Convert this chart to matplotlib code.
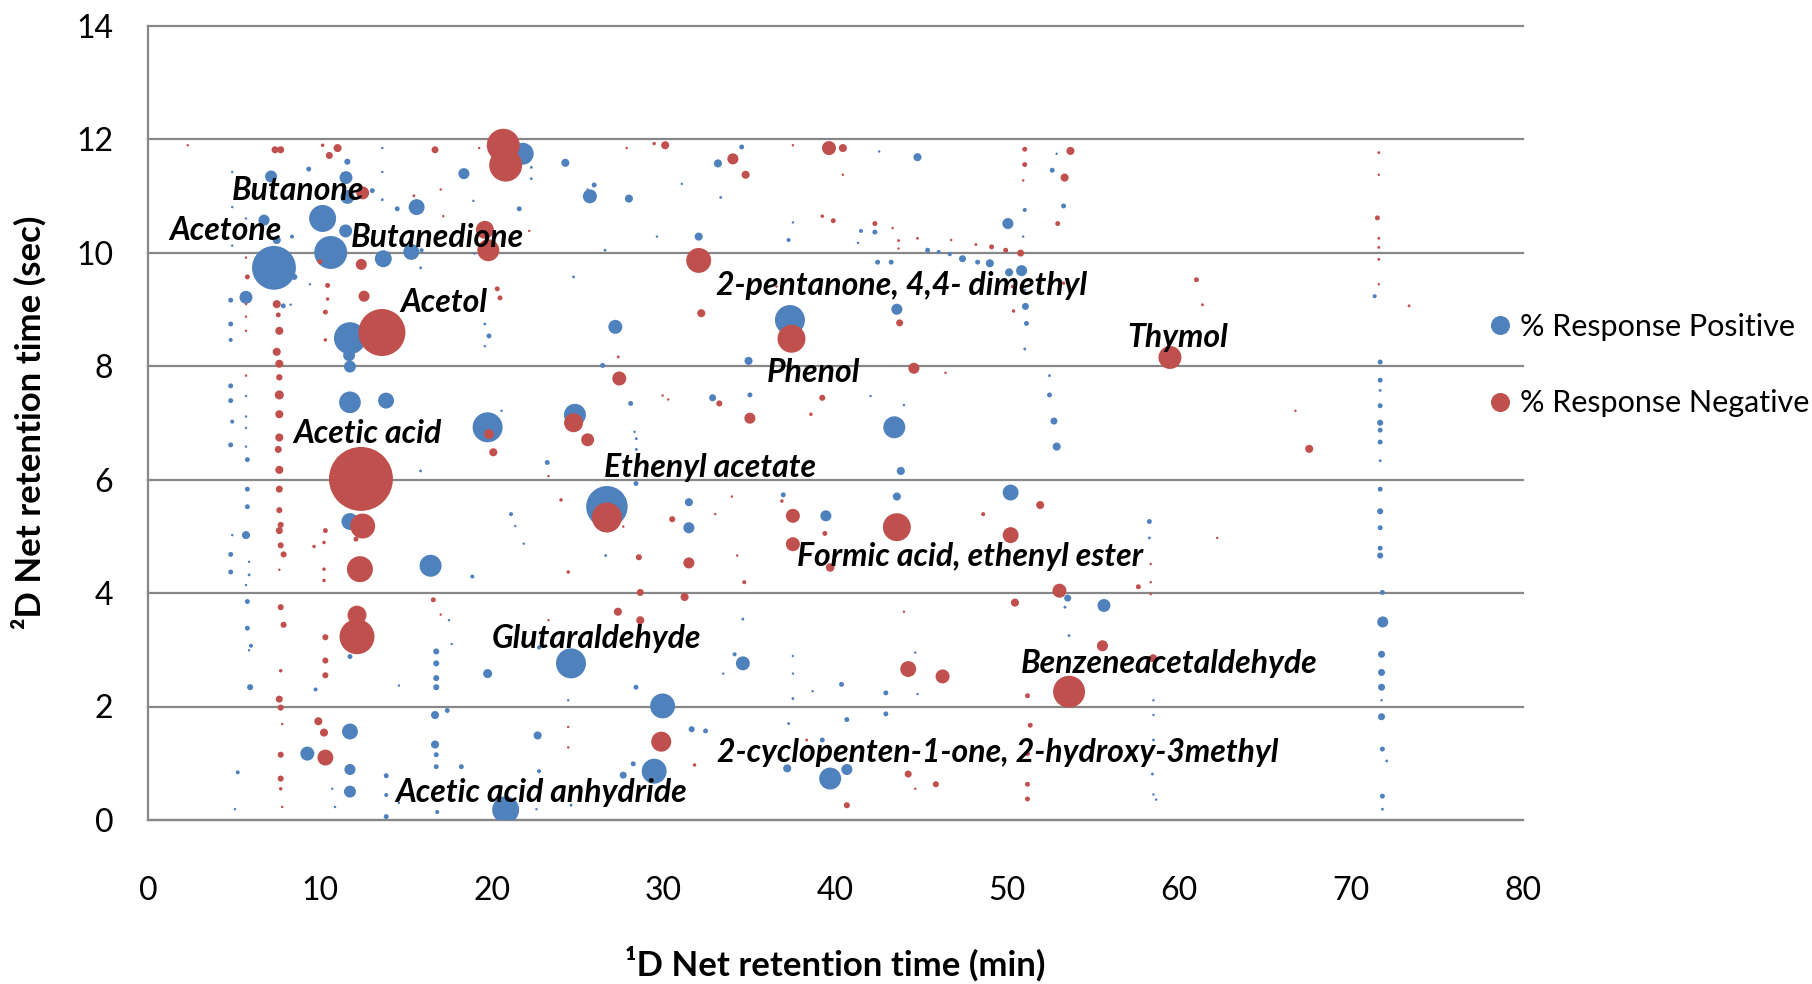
import matplotlib
matplotlib.use("Agg")
import matplotlib.pyplot as plt
from matplotlib.lines import Line2D

plt.rcParams['font.family'] = ['Lato', 'DejaVu Sans']

BLUE = '#4f81bd'
RED = '#c0504d'
GRID = '#878787'

# % Response Positive: 1D time (min), 2D time (sec), response
pos_x = [13.63, 11.60, 9.35, 7.16, 4.90, 13.63, 11.52, 11.60, 13.05, 13.63,
         14.50, 15.63, 18.93, 21.60, 18.38, 21.80, 22.30, 22.30, 24.28, 25.71,
         25.96, 25.58, 4.90, 10.16, 6.75, 5.70, 11.50, 8.38, 7.49, 4.90,
         10.63, 15.32, 15.92, 13.69, 18.99, 15.86, 24.76, 7.33, 8.51, 9.42,
         5.70, 4.81, 7.87, 8.30, 4.81, 4.81, 11.75, 11.70, 11.75, 19.60,
         19.84, 19.60, 4.81, 5.70, 4.81, 11.75, 13.85, 5.70, 4.90, 5.70,
         19.76, 20.57, 24.84, 4.81, 5.70, 5.78, 15.86, 23.23,
         5.78, 5.78, 4.90, 5.70, 4.81, 5.88, 4.81, 5.88, 5.70, 11.75,
         16.44, 18.87, 21.12, 21.37, 21.86, 5.78, 5.78, 5.99, 5.88, 11.75,
         5.94, 9.75, 14.60, 16.77, 16.77, 16.77, 16.77, 17.51, 17.67, 19.76,
         24.61, 22.75, 24.45, 16.70, 17.41, 11.75, 9.27, 11.75, 11.75, 16.70,
         16.77, 16.77, 18.23, 22.67, 22.75, 5.22, 10.72, 10.88, 5.06, 13.86,
         13.86, 13.86, 14.60, 16.83, 20.81, 22.60, 24.61,
         34.54, 42.54, 44.77, 33.16, 27.98, 31.06, 33.32, 37.52, 29.61, 32.04,
         37.27, 41.48, 42.29, 41.31, 50.03, 45.36, 46.00, 46.65, 47.39, 48.27,
         48.98, 50.10, 42.45, 43.24, 26.59, 43.57, 27.19, 37.35, 34.94, 26.45,
         28.08, 32.85, 35.02, 42.04, 43.98, 43.42, 43.80, 28.31, 28.41, 28.41,
         28.39, 26.70, 31.47, 31.47, 36.96, 43.57, 39.44, 50.19, 26.63, 34.61,
         34.13, 34.61, 33.47, 37.52, 37.52, 37.52, 38.67, 40.35, 42.93, 44.64,
         44.77, 28.39, 29.94, 31.63, 32.44, 37.27, 40.66, 42.93, 39.23, 28.23,
         27.65, 29.45, 37.19, 39.69, 40.66,
         52.87, 52.61, 53.27, 51.01, 50.92, 50.83, 51.03, 51.05, 51.11, 51.01,
         52.45, 52.45, 52.71, 52.87, 71.37, 71.69, 71.69, 71.69, 71.69, 71.69,
         71.69, 71.69, 71.69,
         58.26, 58.26, 53.51, 53.35, 55.62, 53.59, 71.69, 71.69, 71.69, 71.69,
         71.69, 71.82, 71.84, 71.77, 71.77, 71.77, 71.77, 71.77, 71.82, 72.07,
         71.82, 71.82, 58.50, 58.50, 58.50, 58.44, 58.50, 58.66]
pos_y = [11.84, 11.60, 11.47, 11.34, 11.42, 11.42, 11.32, 10.98, 11.09, 10.93,
         10.77, 10.80, 10.91, 10.77, 11.39, 11.74, 11.50, 11.30, 11.58, 10.99,
         11.19, 11.11, 10.80, 10.60, 10.57, 10.60, 10.38, 10.28, 10.22, 10.12,
         10.00, 10.01, 10.04, 9.89, 9.98, 9.73, 9.57, 9.73, 9.57, 9.44,
         9.21, 9.16, 9.06, 9.08, 8.74, 8.46, 8.49, 8.19, 7.99, 8.74,
         8.53, 8.35, 7.65, 7.47, 7.39, 7.36, 7.39, 7.11, 7.02, 6.91,
         6.92, 7.21, 7.14, 6.61, 6.58, 6.35, 6.15, 6.30,
         5.83, 5.52, 5.02, 5.02, 4.68, 4.55, 4.37, 4.32, 4.14, 5.26,
         4.48, 4.29, 5.39, 5.18, 4.87, 3.85, 3.38, 3.07, 2.99, 2.88,
         2.34, 2.30, 2.37, 2.97, 2.76, 2.50, 2.34, 3.52, 3.10, 2.58,
         2.76, 3.04, 2.11, 1.85, 1.93, 1.56, 1.17, 0.89, 0.50, 1.33,
         1.15, 0.94, 0.94, 1.49, 0.86, 0.84, 0.55, 0.23, 0.19, 0.78,
         0.06, 0.44, 0.30, 0.14, 0.18, 0.19, 0.26,
         11.86, 11.78, 11.68, 11.57, 10.95, 11.21, 10.97, 10.53, 10.28, 10.28,
         10.22, 10.38, 10.36, 10.17, 10.51, 10.04, 10.01, 9.97, 9.89, 9.83,
         9.81, 9.65, 9.83, 9.83, 10.04, 9.00, 8.69, 8.81, 8.09, 8.01,
         7.34, 7.44, 7.49, 7.47, 7.31, 6.92, 6.15, 6.84, 6.72, 6.53,
         5.93, 5.52, 5.60, 5.15, 5.73, 5.70, 5.36, 5.77, 4.66, 3.54,
         2.92, 2.76, 2.58, 2.89, 2.58, 2.14, 2.27, 2.39, 2.24, 2.95,
         2.22, 2.34, 2.01, 1.60, 1.57, 1.70, 1.77, 1.87, 1.41, 0.99,
         0.79, 0.86, 0.91, 0.73, 0.89,
         11.74, 11.45, 10.82, 10.75, 10.28, 9.68, 9.34, 9.05, 8.75, 8.30,
         7.83, 7.49, 7.03, 6.58, 9.23, 8.07, 7.75, 7.57, 7.30, 7.00,
         6.87, 6.66, 6.33,
         5.26, 4.97, 3.91, 3.75, 3.78, 3.25, 5.83, 5.44, 5.15, 4.79,
         4.66, 4.01, 3.49, 2.92, 2.60, 2.34, 2.11, 1.82, 1.25, 1.04,
         0.42, 0.19, 2.11, 1.85, 1.41, 0.81, 0.45, 0.36]
pos_r = [0.15, 0.9, 0.6, 3.5, 0.15, 0.15, 4.1, 4.8, 0.6, 0.2,
         0.6, 6.2, 0.15, 0.6, 3.0, 11.8, 0.2, 0.2, 1.6, 4.8,
         0.6, 0.15, 0.15, 17.8, 3.0, 0.15, 4.1, 0.4, 1.6, 0.15,
         26.6, 6.2, 0.4, 7.0, 0.15, 0.2, 0.2, 47, 0.9, 0.15,
         4.1, 0.6, 0.6, 0.15, 0.6, 0.4, 25, 3.5, 3.5, 0.2,
         0.6, 0.15, 0.6, 0.15, 0.6, 11.5, 6.2, 0.15, 0.4, 0.15,
         22, 0.15, 11.8, 0.6, 0.15, 0.6, 0.2, 0.6,
         0.6, 0.6, 0.15, 1.6, 0.6, 0.15, 0.6, 0.2, 0.15, 7.0,
         11.8, 0.4, 0.4, 0.15, 0.15, 0.6, 0.6, 0.4, 0.15, 0.6,
         0.9, 0.4, 0.15, 0.9, 0.9, 0.9, 0.9, 0.15, 0.15, 2.0,
         22, 0.4, 0.15, 1.6, 0.6, 6.2, 4.8, 3.0, 3.5, 1.6,
         0.6, 0.6, 0.6, 1.6, 0.4, 0.4, 0.15, 0.15, 0.15, 0.6,
         0.6, 0.4, 0.15, 0.4, 17.8, 0.15, 0.2,
         0.6, 0.15, 1.6, 1.6, 1.6, 0.15, 0.2, 0.15, 0.15, 1.6,
         0.4, 0.4, 0.6, 0.15, 3.0, 0.6, 0.4, 0.4, 1.2, 0.6,
         1.6, 1.6, 0.6, 0.6, 0.2, 3.0, 4.8, 22, 1.6, 0.6,
         0.6, 1.2, 0.6, 0.15, 0.15, 11.8, 1.6, 0.15, 0.2, 0.2,
         0.6, 42, 1.6, 3.0, 0.6, 1.6, 3.0, 6.2, 0.2, 0.2,
         0.4, 4.8, 0.15, 0.15, 0.15, 0.2, 0.15, 0.6, 0.6, 0.15,
         0.15, 0.6, 15.2, 0.9, 0.6, 0.2, 0.6, 0.6, 0.6, 0.6,
         1.2, 15.2, 1.6, 11.8, 3.0,
         0.15, 0.6, 0.6, 0.4, 0.15, 3.0, 0.15, 1.2, 0.6, 0.2,
         0.2, 0.6, 1.2, 1.6, 0.4, 0.6, 0.6, 0.2, 0.6, 0.9,
         0.6, 0.6, 0.2,
         0.6, 0.2, 1.2, 0.2, 4.1, 0.2, 0.6, 0.9, 0.6, 0.6,
         0.9, 0.6, 3.0, 1.2, 1.2, 1.2, 0.15, 1.2, 0.6, 0.2,
         0.6, 0.2, 0.15, 0.15, 0.2, 0.2, 0.15, 0.15]

# % Response Negative
neg_x = [2.31, 7.39, 7.72, 10.16, 11.03, 10.55, 16.70, 19.27, 20.67, 20.81,
         12.49, 15.47, 17.03, 17.18, 19.60, 19.80, 22.18, 10.00, 12.41, 5.70,
         5.78, 10.45, 10.45, 12.57, 20.32, 20.48, 7.49, 5.70, 7.58, 5.70,
         10.32, 7.64, 5.70, 10.32, 13.61, 7.49, 7.64, 5.70, 7.64, 7.64,
         7.64, 7.64, 7.58, 7.64, 19.84, 20.09, 24.76, 25.58, 12.39, 23.30,
         7.64, 7.64, 7.72, 7.64, 7.72, 7.89, 7.64, 10.32, 10.24, 9.66,
         10.24, 10.24, 12.49, 12.10, 12.33, 16.60, 17.03, 23.30, 24.03, 24.45,
         7.72, 7.89, 10.32, 12.16, 12.16, 10.32, 10.32, 7.72, 7.64, 7.72,
         7.81, 9.91, 10.24, 10.32, 7.72, 7.72, 7.72, 7.81, 24.45, 24.45,
         27.85, 29.45, 30.09, 37.52, 39.62, 40.43, 34.03, 34.77, 40.43, 39.23,
         39.87, 42.29, 43.32, 43.67, 44.77, 46.73, 48.17, 49.08, 49.90, 43.67,
         32.04, 32.19, 43.73, 50.36, 50.30, 36.57, 37.44, 27.36, 27.42, 44.56,
         46.40, 29.94, 30.27, 33.24, 39.23, 38.57, 35.02,
         26.70, 27.65, 30.50, 33.00, 33.97, 36.88, 37.52, 37.52, 39.38, 39.69,
         43.57, 48.59, 50.19, 28.56, 31.47, 34.28, 34.69, 28.64, 31.22, 27.34,
         28.64, 50.44, 43.98, 44.23, 46.23, 29.86, 31.80, 38.32, 44.23, 45.84,
         44.64, 40.66,
         51.01, 51.01, 50.92, 53.67, 53.33, 52.93, 50.77, 53.27, 61.00, 61.35,
         59.46, 66.76, 67.56, 71.61, 71.61, 71.53, 71.61, 71.61, 71.61, 71.61,
         73.37,
         51.91, 62.21, 58.34, 58.34, 58.34, 57.62, 53.03, 55.53, 58.48, 53.59,
         51.17, 51.33, 51.17, 51.17, 51.17]
neg_y = [11.89, 11.81, 11.81, 11.89, 11.84, 11.71, 11.81, 11.84, 11.89, 11.54,
         11.05, 11.00, 11.11, 10.64, 10.40, 10.04, 10.38, 9.84, 9.79, 9.91,
         9.57, 9.42, 9.18, 9.23, 9.36, 9.20, 9.09, 9.09, 8.90, 8.87,
         8.95, 8.62, 8.62, 8.46, 8.59, 8.25, 8.04, 7.83, 7.80, 7.49,
         7.15, 6.74, 6.53, 6.17, 6.80, 6.48, 7.00, 6.70, 6.01, 6.06,
         5.83, 5.46, 5.20, 5.10, 4.84, 4.68, 4.41, 5.10, 4.89, 4.82,
         4.42, 4.22, 5.18, 4.95, 4.42, 3.88, 3.62, 3.52, 5.64, 4.37,
         3.75, 3.44, 3.22, 3.61, 3.23, 2.81, 2.55, 2.63, 2.13, 1.98,
         1.69, 1.74, 1.54, 1.10, 1.15, 0.73, 0.55, 0.23, 1.64, 1.28,
         11.84, 11.92, 11.89, 11.89, 11.84, 11.84, 11.65, 11.37, 11.37, 10.64,
         10.56, 10.51, 10.43, 10.21, 10.25, 10.22, 10.14, 10.10, 10.04, 10.07,
         9.86, 8.93, 8.76, 8.97, 9.40, 9.40, 8.48, 8.16, 7.78, 7.96,
         7.88, 7.48, 7.41, 7.34, 7.44, 7.15, 7.08,
         5.33, 5.17, 5.30, 5.39, 5.70, 5.62, 5.36, 4.86, 5.05, 4.45,
         5.16, 5.39, 5.02, 4.63, 4.53, 4.66, 4.19, 4.01, 3.93, 3.67,
         3.52, 3.83, 3.67, 2.66, 2.53, 1.38, 0.97, 1.41, 0.81, 0.63,
         0.55, 0.26,
         11.82, 11.55, 11.27, 11.79, 11.32, 10.51, 9.99, 9.46, 9.52, 9.08,
         8.15, 7.21, 6.54, 11.76, 11.37, 10.61, 10.25, 10.09, 9.88, 9.44,
         9.06,
         5.55, 4.97, 4.51, 4.19, 3.98, 4.11, 4.04, 3.07, 2.85, 2.26,
         2.19, 1.67, 1.17, 0.63, 0.37]
neg_r = [0.15, 1.2, 1.2, 0.3, 1.6, 1.2, 1.2, 0.15, 26.6, 26.6,
         4.1, 0.2, 0.15, 0.15, 7.9, 11.8, 0.15, 0.6, 3.0, 0.15,
         0.6, 0.6, 0.3, 3.0, 0.6, 0.6, 1.6, 0.15, 0.6, 0.15,
         0.6, 1.6, 0.15, 0.3, 54, 1.6, 1.6, 0.15, 1.0, 2.0,
         1.6, 1.6, 1.2, 1.6, 2.4, 1.6, 8.8, 4.1, 100, 0.15,
         1.2, 0.9, 0.9, 1.2, 0.9, 0.9, 0.15, 0.6, 0.3, 0.3,
         0.3, 0.3, 15.2, 0.6, 16.5, 0.6, 0.15, 0.15, 0.3, 0.3,
         0.9, 0.9, 0.9, 8.8, 29.9, 0.9, 0.9, 0.3, 1.2, 0.9,
         0.15, 1.6, 1.6, 6.2, 0.9, 0.9, 0.3, 0.15, 0.15, 0.15,
         0.15, 0.3, 1.6, 0.15, 4.8, 1.6, 3.0, 1.6, 0.15, 0.3,
         0.6, 0.6, 0.15, 0.2, 0.2, 0.15, 0.2, 0.6, 0.6, 0.15,
         15.2, 1.6, 1.2, 0.3, 0.3, 0.15, 19.1, 0.2, 4.8, 3.0,
         0.15, 0.15, 0.15, 0.9, 0.9, 0.3, 3.0,
         22, 0.15, 0.9, 0.15, 0.15, 0.3, 4.8, 4.8, 0.6, 1.8,
         19.1, 0.4, 6.2, 0.9, 3.0, 0.15, 0.4, 1.2, 1.6, 1.6,
         1.6, 1.6, 0.15, 6.2, 4.8, 9.8, 0.3, 0.2, 1.2, 0.9,
         0.15, 0.9,
         0.6, 0.6, 0.15, 1.6, 1.6, 0.6, 1.2, 0.3, 0.6, 0.2,
         12.9, 0.15, 1.6, 0.2, 0.15, 0.6, 0.2, 0.2, 0.2, 0.15,
         0.2,
         1.6, 0.15, 0.15, 0.15, 0.15, 0.6, 4.8, 3.0, 1.6, 25,
         0.6, 0.6, 0.6, 0.6, 0.6]

# compound labels (left edge / baseline of text)
label_names = ["Butanone", "Acetone", "Butanedione", "Acetol", "Acetic acid",
               "2-pentanone, 4,4- dimethyl", "Phenol", "Thymol", "Ethenyl acetate",
               "Formic acid, ethenyl ester", "Glutaraldehyde", "Benzeneacetaldehyde",
               "2-cyclopenten-1-one, 2-hydroxy-3methyl", "Acetic acid anhydride"]
label_x = [4.87, 1.24, 11.79, 14.66, 8.45, 33.04, 35.99, 56.98, 26.54,
           37.74, 19.99, 50.77, 33.08, 14.37]
label_y = [10.93, 10.22, 10.10, 8.96, 6.65, 9.25, 7.72, 8.34, 6.05,
           4.48, 3.03, 2.59, 1.03, 0.32]

fig = plt.figure(figsize=(18.12, 9.84), dpi=100)
ax = fig.add_axes([148 / 1812, 1 - 820 / 984, 1375 / 1812, 794.5 / 984])

scale = 21.2  # marker area (pt^2) per unit of response
ax.scatter(pos_x, pos_y, s=[v * scale for v in pos_r], color=BLUE,
           edgecolors='none', zorder=3)
ax.scatter(neg_x, neg_y, s=[v * scale for v in neg_r], color=RED,
           edgecolors='none', zorder=4)

for name, lx, ly in zip(label_names, label_x, label_y):
    ax.text(lx, ly, name, fontsize=23, fontweight='bold', style='italic',
            ha='left', va='baseline', zorder=5)

ax.set_xlim(0, 80)
ax.set_ylim(0, 14)
ax.set_xticks(range(0, 81, 10))
ax.set_yticks(range(0, 15, 2))
ax.grid(axis='y', color=GRID, lw=1.6)
ax.set_axisbelow(True)
for gl in ax.get_ygridlines():
    gl.set_clip_on(False)
for side in ['top', 'right']:
    ax.spines[side].set_visible(False)
for side in ['left', 'bottom']:
    ax.spines[side].set_color(GRID)
    ax.spines[side].set_linewidth(1.6)
ax.tick_params(axis='both', length=0, labelsize=23)
ax.tick_params(axis='y', pad=25)
ax.tick_params(axis='x', pad=40)

ax.set_xlabel("\u00b9D Net retention time (min)", fontsize=25,
              fontweight='bold', va='center')
ax.xaxis.set_label_coords(0.5, -(964 - 820) / 794.5)
ax.set_ylabel("\u00b2D Net retention time (sec)", fontsize=25,
              fontweight='bold', va='center')
ax.yaxis.set_label_coords(-(148 - 29) / 1375, 0.5)

handles = [Line2D([], [], ls='', marker='o', ms=13.7, mfc=BLUE, mec='none'),
           Line2D([], [], ls='', marker='o', ms=13.7, mfc=RED, mec='none')]
ax.legend(handles, ["% Response Positive", "% Response Negative"],
          loc='center left', bbox_to_anchor=(1485 / 1812, 1 - 365 / 984),
          bbox_transform=fig.transFigure, frameon=False, fontsize=22,
          handlelength=1.0, handletextpad=0.14, labelspacing=1.6,
          borderpad=0, borderaxespad=0)

fig.savefig("out.png", dpi=100)
